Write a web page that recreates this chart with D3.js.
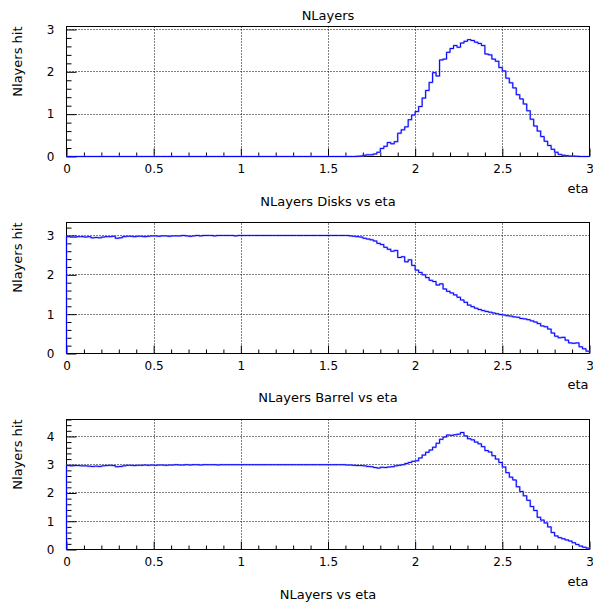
<!DOCTYPE html>
<html><head><meta charset="utf-8">
<script src="https://cdn.jsdelivr.net/npm/d3@7"></script>
<style>
body{margin:0;background:#fff}
svg{display:block}
text{font-family:"DejaVu Sans",sans-serif;fill:#000}
</style>
</head><body><div id="chart"></div>
<script>
// ---------- data ----------
// 150 bins of width 0.02 in eta, from 0 to 3
const binCount = 150;
const etaEdges = d3.range(binCount + 1).map(i => +(i * 0.02).toFixed(2));

const nlayersHit = [
 0,0,0,0,0,0,0,0,0,0,
 0,0,0,0,0,0,0,0,0,0,
 0,0,0,0,0,0,0,0,0,0,
 0,0,0,0,0,0,0,0,0,0,
 0,0,0,0,0,0,0,0,0,0,
 0,0,0,0,0,0,0,0,0,0,
 0,0,0,0,0,0,0,0,0,0,
 0,0,0,0,0,0,0,0,0,0,
 0,0,0,0.005,0.01,0.03,0.04,0.04,0.06,0.10,
 0.19,0.24,0.33,0.30,0.35,0.55,0.63,0.70,0.87,0.98,
 1.06,1.18,1.38,1.56,1.75,1.98,1.90,2.28,2.30,2.46,
 2.55,2.62,2.58,2.68,2.72,2.76,2.74,2.70,2.67,2.62,
 2.42,2.40,2.30,2.25,2.10,2.02,1.85,1.74,1.62,1.46,
 1.36,1.24,1.08,0.88,0.72,0.60,0.47,0.36,0.26,0.17,
 0.10,0.05,0.03,0.02,0.01,0.01,0.005,0,0,0
];

const disksHit = [
 2.97,2.96,2.96,2.97,2.97,2.96,2.97,2.94,2.95,2.94,
 2.96,2.97,2.97,2.98,2.93,2.94,2.97,2.98,2.98,2.97,
 2.98,2.98,2.97,2.98,2.99,2.99,2.98,2.99,2.99,2.98,
 2.99,2.99,2.99,3.00,2.99,2.98,2.99,3.00,2.99,3.00,
 3.00,3.00,2.99,3.00,3.00,3.00,3.00,3.00,2.99,3.00,
 3.00,3.00,3.00,3.00,3.00,3.00,3.00,3.00,3.00,3.00,
 3.00,3.00,3.00,3.00,3.00,3.00,3.00,3.00,3.00,3.00,
 3.00,3.00,3.00,3.00,3.00,3.00,3.00,3.00,3.00,3.00,
 3.00,2.99,2.98,2.97,2.96,2.93,2.91,2.89,2.86,2.80,
 2.77,2.70,2.65,2.60,2.62,2.44,2.46,2.33,2.38,2.24,
 2.12,2.06,2.00,1.93,1.86,1.83,1.74,1.77,1.64,1.58,
 1.54,1.49,1.43,1.36,1.30,1.23,1.19,1.15,1.12,1.09,
 1.07,1.05,1.03,1.01,0.99,0.98,0.96,0.95,0.93,0.92,
 0.89,0.88,0.86,0.83,0.80,0.76,0.70,0.68,0.62,0.52,
 0.44,0.40,0.41,0.34,0.27,0.26,0.27,0.17,0.12,0.06
];

const barrelHit = [
 2.97,2.96,2.97,2.97,2.96,2.96,2.95,2.94,2.95,2.94,
 2.96,2.97,2.98,2.97,2.93,2.94,2.96,2.98,2.98,2.97,
 2.98,2.98,2.99,2.98,2.99,2.98,2.99,2.99,2.98,2.99,
 2.99,3.00,2.99,2.99,3.00,2.99,3.00,3.00,2.99,3.00,
 3.00,3.00,3.00,2.99,3.00,3.00,3.00,3.00,3.00,3.00,
 3.00,3.00,3.00,3.00,3.00,3.00,3.00,3.00,3.00,3.00,
 3.00,3.00,3.00,3.00,3.00,3.00,3.00,3.00,3.00,3.00,
 3.00,3.00,3.00,3.00,3.00,3.00,3.00,3.00,3.00,3.00,
 2.99,2.99,2.98,2.97,2.97,2.96,2.94,2.93,2.90,2.88,
 2.91,2.90,2.92,2.93,2.96,2.98,3.00,3.04,3.08,3.12,
 3.14,3.24,3.34,3.44,3.52,3.62,3.76,3.90,3.98,4.05,
 4.04,4.06,4.08,4.14,4.02,3.92,3.88,3.80,3.74,3.64,
 3.50,3.45,3.32,3.20,3.08,2.92,2.72,2.56,2.46,2.22,
 2.05,1.90,1.74,1.52,1.38,1.14,1.04,0.94,0.80,0.60,
 0.48,0.42,0.38,0.34,0.30,0.24,0.18,0.12,0.08,0.05
];

const xTickValues = [0, 0.5, 1, 1.5, 2, 2.5, 3];
const panelYMax = [3.07, 3.33, 4.60];
const panelYTicks = [[0,1,2,3],[0,1,2,3],[0,1,2,3,4]];
const titles = ["NLayers", "NLayers Disks vs eta", "NLayers Barrel vs eta", "NLayers vs eta"];
const yTitle = "Nlayers hit";
const xTitle = "eta";

// ---------- layout ----------
const W = 593, H = 603;
const svg = d3.select("#chart").append("svg").attr("width", W).attr("height", H);
svg.append("rect").attr("width", W).attr("height", H).attr("fill", "#fff");

const xScale = d3.scaleLinear().domain([0, 3]).range([66.5, 589.5]);
const frames = [
  {top: 26.5, bottom: 156.5, etaY: 193},
  {top: 222.5, bottom: 353.5, etaY: 389},
  {top: 419.5, bottom: 549.5, etaY: 586}
];
const titleY = [20, 206, 402, 599];
const seriesList = [nlayersHit, disksHit, barrelHit];

titles.forEach((t, i) => {
  svg.append("text").attr("x", 328).attr("y", titleY[i])
    .attr("text-anchor", "middle").style("font-size", "13px").text(t);
});

seriesList.forEach((values, p) => {
  const f = frames[p];
  const y = d3.scaleLinear().domain([0, panelYMax[p]]).range([f.bottom, f.top]);
  const g = svg.append("g");

  // grid
  xTickValues.filter(v => v > 0 && v < 3).forEach(v => {
    g.append("line").attr("x1", Math.round(xScale(v)) + 0.5).attr("x2", Math.round(xScale(v)) + 0.5)
      .attr("y1", f.bottom).attr("y2", f.top)
      .attr("stroke", "#000").attr("stroke-width", 1).attr("stroke-dasharray", "1,2");
  });
  panelYTicks[p].filter(v => v > 0).forEach(v => {
    const yy = Math.round(y(v) - 0.5) + 0.5;
    g.append("line").attr("x1", xScale(0)).attr("x2", xScale(3))
      .attr("y1", yy).attr("y2", yy)
      .attr("stroke", "#000").attr("stroke-width", 1).attr("stroke-dasharray", "1,2");
  });

  // frame
  g.append("rect").attr("x", xScale(0)).attr("y", f.top)
    .attr("width", xScale(3) - xScale(0)).attr("height", f.bottom - f.top)
    .attr("fill", "none").attr("stroke", "#000").attr("stroke-width", 1);

  // x axis major
  const xAxis = d3.axisBottom(xScale).tickValues(xTickValues)
    .tickSizeInner(-8).tickSizeOuter(0).tickPadding(8)
    .tickFormat(d => d3.format("~g")(d));
  const xa = g.append("g").attr("transform", `translate(0,${f.bottom})`).call(xAxis);
  xa.select(".domain").remove();
  xa.selectAll("text").style("font-size", "12px").style("font-family", "DejaVu Sans");
  // x axis minor
  const xMinor = d3.range(1, 30).filter(i => i % 5 !== 0).map(i => i / 10);
  const xm = g.append("g").attr("transform", `translate(0,${f.bottom})`)
    .call(d3.axisBottom(xScale).tickValues(xMinor).tickSizeInner(-4).tickSizeOuter(0).tickFormat(""));
  xm.select(".domain").remove();

  // y axis major
  const yAxis = d3.axisLeft(y).tickValues(panelYTicks[p])
    .tickSizeInner(-10).tickSizeOuter(0).tickPadding(12)
    .tickFormat(d => d3.format("~g")(d));
  const ya = g.append("g").attr("transform", `translate(${xScale(0)},0)`).call(yAxis);
  ya.select(".domain").remove();
  ya.selectAll("text").style("font-size", "12px").style("font-family", "DejaVu Sans");
  // y axis minor
  const yMinor = d3.range(1, Math.floor(panelYMax[p] * 5) + 1).filter(i => i % 5 !== 0).map(i => i / 5);
  const ym = g.append("g").attr("transform", `translate(${xScale(0)},0)`)
    .call(d3.axisLeft(y).tickValues(yMinor).tickSizeInner(-5).tickSizeOuter(0).tickFormat(""));
  ym.select(".domain").remove();

  // histogram
  const pts = [[0, 0]];
  values.forEach((v, i) => { pts.push([etaEdges[i], v]); pts.push([etaEdges[i + 1], v]); });
  pts.push([3, 0]);
  const line = d3.line().x(d => xScale(d[0])).y(d => y(d[1]));
  g.append("path").attr("d", line(pts)).attr("fill", "none")
    .attr("stroke", "#8a8aff").attr("stroke-width", 2).attr("stroke-opacity", 0.6);
  g.append("path").attr("d", line(pts)).attr("fill", "none")
    .attr("stroke", "#0000ff").attr("stroke-width", 1);

  // axis titles
  svg.append("text").attr("x", 588.5).attr("y", f.etaY).attr("text-anchor", "end")
    .style("font-size", "13px").text(xTitle);
  svg.append("text").attr("transform", `translate(21.5,${f.top}) rotate(-90)`)
    .attr("text-anchor", "end").style("font-size", "13px").text(yTitle);
});
</script>
</body></html>
